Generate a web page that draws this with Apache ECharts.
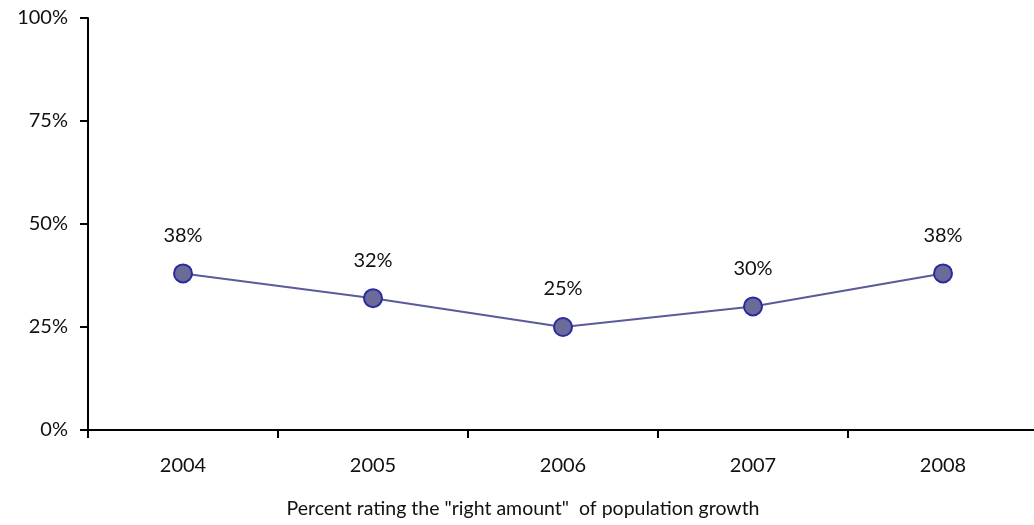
<!DOCTYPE html>
<html>
<head>
<meta charset="utf-8">
<script src="https://cdn.jsdelivr.net/npm/echarts@6/dist/echarts.min.js"></script>
<style>
  html, body { margin: 0; padding: 0; background: #ffffff; }
  #chart { width: 1034px; height: 525px; }
</style>
</head>
<body>
<div id="chart"></div>
<script>
// Survey years and share rating population growth as the "right amount"
const years = ['2004', '2005', '2006', '2007', '2008'];
const rightAmount = [38, 32, 25, 30, 38];
const yTicks = [0, 25, 50, 75, 100];
const xTitle = 'Percent rating the "right amount"  of population growth';

const FONT = 'Lato, "Open Sans", sans-serif';
const chart = echarts.init(document.getElementById('chart'), null, { renderer: 'canvas' });

chart.setOption({
  animation: false,
  backgroundColor: '#ffffff',
  grid: { left: 88, top: 18, bottom: 95, width: 950, containLabel: false, outerBoundsMode: 'none' },
  xAxis: {
    type: 'category',
    data: years,
    boundaryGap: true,
    name: xTitle,
    nameLocation: 'middle',
    nameGap: 69,
    // the caption sits a little left of the axis centre
    nameTextStyle: { fontFamily: FONT, fontSize: 19.5, color: '#111', padding: [0, 80, 0, 0] },
    axisLine: { lineStyle: { color: '#000', width: 2 } },
    axisTick: { show: true, length: 8, inside: false, lineStyle: { color: '#000', width: 2 } },
    axisLabel: { fontFamily: FONT, fontSize: 20, color: '#111', margin: 26 },
    splitLine: { show: false }
  },
  yAxis: {
    type: 'value',
    min: yTicks[0],
    max: yTicks[yTicks.length - 1],
    interval: yTicks[1] - yTicks[0],
    axisLine: { show: true, lineStyle: { color: '#000', width: 2 } },
    axisTick: { show: true, length: 8, lineStyle: { color: '#000', width: 2 } },
    axisLabel: { fontFamily: FONT, fontSize: 20, color: '#111', margin: 20, formatter: '{value}%' },
    splitLine: { show: false }
  },
  series: [{
    type: 'line',
    data: rightAmount,
    symbol: 'circle',
    symbolSize: 18,
    lineStyle: { color: '#5a5a9c', width: 2 },
    itemStyle: { color: '#6b6b99', borderColor: '#2b2b9e', borderWidth: 2 },
    label: {
      show: true,
      position: 'top',
      distance: 18,
      formatter: '{c}%',
      fontFamily: FONT,
      fontSize: 20,
      color: '#111'
    }
  }]
});
</script>
</body>
</html>
